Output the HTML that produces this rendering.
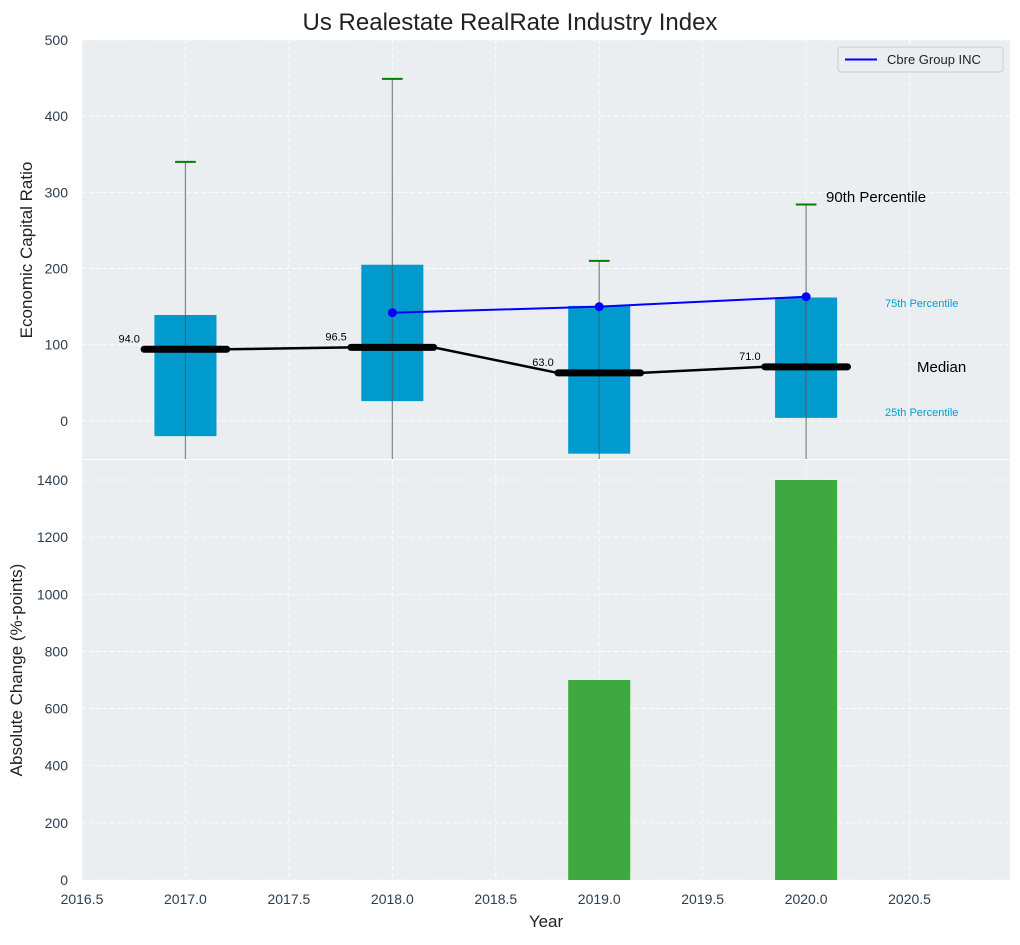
<!DOCTYPE html>
<html><head><meta charset="utf-8"><style>
body{margin:0;background:#fff;font-family:"Liberation Sans",Arial,sans-serif}
svg text{font-family:"Liberation Sans",Arial,sans-serif}
</style></head><body>
<svg id="c" width="1020" height="940" xmlns="http://www.w3.org/2000/svg"></svg>
<script>
const years=[2017,2018,2019,2020];
const q75=[139,205,151,162];
const q25=[-20,26,-43,4];
const medians=[94,96.5,63,71];
const p90=[340,449,210,284];
const companyYears=[2018,2019,2020];
const companyVals=[142,150,163];
const changeYears=[2019,2020];
const changeVals=[700,1400];
const xTicks=[2016.5,2017,2017.5,2018,2018.5,2019,2019.5,2020,2020.5];
const yTopTicks=[0,100,200,300,400,500];
const yBotTicks=[0,200,400,600,800,1000,1200,1400];

const NS="http://www.w3.org/2000/svg";
const svg=document.getElementById('c');
function el(t,a,p){const e=document.createElementNS(NS,t);for(const k in a)e.setAttribute(k,a[k]);(p||svg).appendChild(e);return e;}
const L=82,R=1010,RS=1013;
const X=v=>L+(v-2016.5)/(2021-2016.5)*(RS-L);
const T0=40,T1=459,B0=460,B1=880;
const YT=v=>T1-(v+50)/550*(T1-T0);
const YB=v=>B1-v/1470*(B1-B0);

let e;
e=el('rect',{x:L,y:T0,width:R-L,height:T1-T0,fill:'#eaeef0'});

e=el('rect',{x:L,y:B0,width:R-L,height:B1-B0,fill:'#eaeef0'});


xTicks.forEach(t=>{
 el('line',{x1:X(t),x2:X(t),y1:T0,y2:T1,stroke:'#fff','stroke-dasharray':'4,3','stroke-width':0.8});
 el('line',{x1:X(t),x2:X(t),y1:B0,y2:B1,stroke:'#fff','stroke-dasharray':'4,3','stroke-width':0.8});
 e=el('text',{x:X(t),y:904,'text-anchor':'middle','font-size':14,fill:'#2d3e50'});e.textContent=t.toFixed(1);
 
});
yTopTicks.forEach(t=>{
 el('line',{x1:L,x2:R,y1:YT(t),y2:YT(t),stroke:'#fff','stroke-dasharray':'4,3','stroke-width':0.8});
 e=el('text',{x:68,y:YT(t)+5,'text-anchor':'end','font-size':14,fill:'#2d3e50'});e.textContent=t;
 
});
yBotTicks.forEach(t=>{
 el('line',{x1:L,x2:R,y1:YB(t),y2:YB(t),stroke:'#fff','stroke-dasharray':'4,3','stroke-width':0.8});
 e=el('text',{x:68,y:YB(t)+5,'text-anchor':'end','font-size':14,fill:'#2d3e50'});e.textContent=t;
 
});

years.forEach((y,i)=>{
 e=el('rect',{x:X(y-0.15),y:YT(q75[i]),width:X(y+0.15)-X(y-0.15),height:YT(q25[i])-YT(q75[i]),fill:'#009ACD'});
 
 e=el('line',{x1:X(y),x2:X(y),y1:YT(p90[i]),y2:T1,stroke:'#555','stroke-opacity':0.7,'stroke-width':1.2});
 
 e=el('line',{x1:X(y-0.05),x2:X(y+0.05),y1:YT(p90[i]),y2:YT(p90[i]),stroke:'green','stroke-width':2});
 
});
let pts=[];
years.forEach((y,i)=>{pts.push(X(y-0.2)+','+YT(medians[i]));pts.push(X(y+0.2)+','+YT(medians[i]));});
e=el('polyline',{points:pts.join(' '),fill:'none',stroke:'#000','stroke-width':2.5});

years.forEach((y,i)=>{
 e=el('line',{x1:X(y-0.2),x2:X(y+0.2),y1:YT(medians[i]),y2:YT(medians[i]),stroke:'#000','stroke-width':7,'stroke-linecap':'round'});
 
 e=el('text',{x:X(y-0.22),y:YT(medians[i])-7,'text-anchor':'end','font-size':11,fill:'#000'});e.textContent=medians[i].toFixed(1);
 
});
e=el('polyline',{points:companyYears.map((y,i)=>X(y)+','+YT(companyVals[i])).join(' '),fill:'none',stroke:'#0000ff','stroke-width':2});

companyYears.forEach((y,i)=>{
 e=el('circle',{cx:X(y),cy:YT(companyVals[i]),r:4.5,fill:'#0000ff'});
 
});
const ann=[[826,202,'90th Percentile',15,'#000'],[885,307,'75th Percentile',11,'#00A0D0'],[917,372,'Median',15,'#000'],[885,416,'25th Percentile',11,'#00A0D0']];
ann.forEach(a=>{e=el('text',{x:a[0],y:a[1],'font-size':a[3],fill:a[4]});e.textContent=a[2];
 });
const lg=el('g',{});

el('rect',{x:838,y:47,width:165,height:25,rx:3,fill:'#eaeef0',stroke:'#ccc'},lg);
el('line',{x1:845,x2:877,y1:59.5,y2:59.5,stroke:'#0000ff','stroke-width':2},lg);
e=el('text',{x:887,y:64,'font-size':13,fill:'#222'},lg);e.textContent='Cbre Group INC';

changeYears.forEach((y,i)=>{
 e=el('rect',{x:X(y-0.15),y:YB(changeVals[i]),width:X(y+0.15)-X(y-0.15),height:YB(0)-YB(changeVals[i]),fill:'#2ca02c','fill-opacity':0.9});
 
});

e=el('text',{x:510,y:30,'text-anchor':'middle','font-size':24,fill:'#222'});e.textContent='Us Realestate RealRate Industry Index';

e=el('text',{x:546,y:927,'text-anchor':'middle','font-size':17,fill:'#222'});e.textContent='Year';

e=el('text',{x:32,y:250,'text-anchor':'middle','font-size':17,fill:'#222',transform:'rotate(-90 32 250)'});e.textContent='Economic Capital Ratio';

e=el('text',{x:22,y:670,'text-anchor':'middle','font-size':17,fill:'#222',transform:'rotate(-90 22 670)'});e.textContent='Absolute Change (%-points)';

</script>
</body></html>
